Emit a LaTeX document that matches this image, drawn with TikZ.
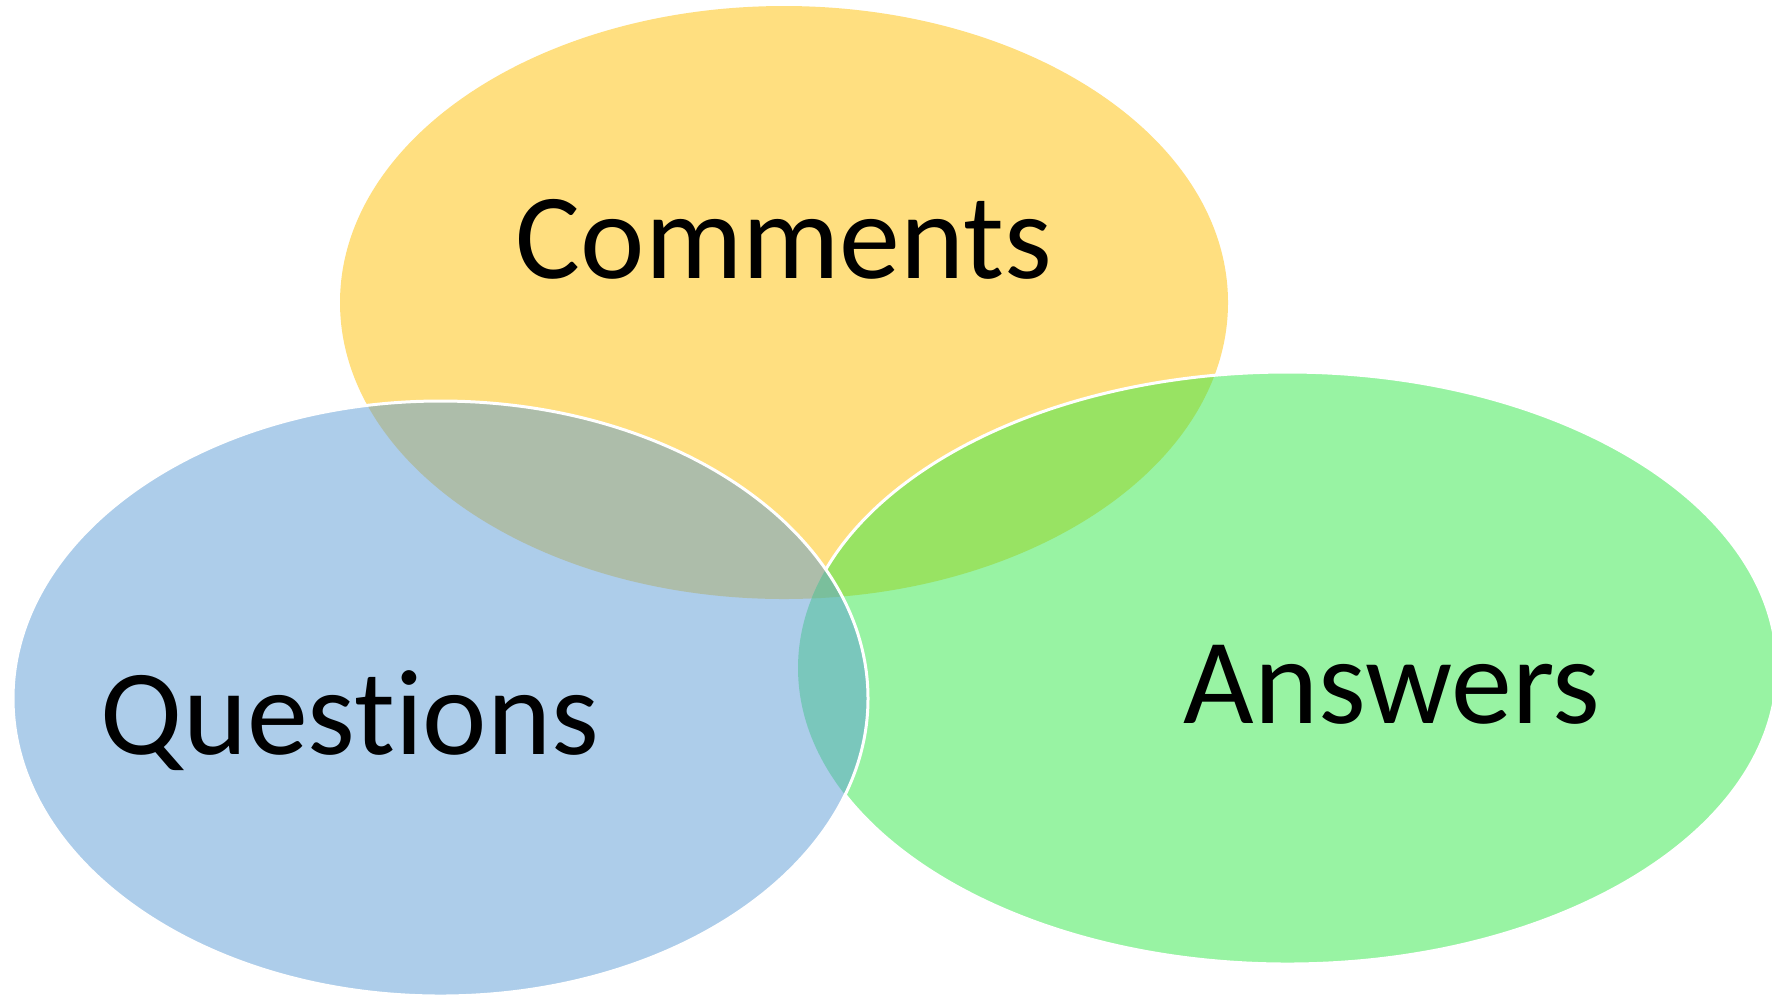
\documentclass[tikz,border=0pt]{standalone}
\usepackage{fontspec}
\setmainfont{Carlito}[Ligatures={NoCommon}]
\definecolor{cY}{RGB}{255,223,128}
\definecolor{cA}{RGB}{152,243,163}
\definecolor{cCA}{RGB}{152,227,99}
\definecolor{cQ}{RGB}{173,205,234}
\definecolor{cQC}{RGB}{173,189,170}
\definecolor{cQA}{RGB}{122,199,188}
\definecolor{cQAC}{RGB}{122,191,156}
\tikzset{
  pathC/.style={insert path={(784,302.5) ellipse [x radius=44.4mm, y radius=29.65mm]}},
  pathA/.style={insert path={(1287.5,668) ellipse [x radius=48.95mm, y radius=29.6mm]}},
  pathQ/.style={insert path={(440.5,698.5) ellipse [x radius=42.75mm, y radius=29.75mm]}},
  rim/.style={draw=white, line width=0.3mm},
  lbl/.style={anchor=base, inner sep=0pt, text=black, font=\fontsize{34.7pt}{40pt}\selectfont}
}
\begin{document}
\begin{tikzpicture}[x=0.1mm,y=-0.1mm]
  \useasboundingbox (0,0) rectangle (1772,997);
  \clip (0,0) rectangle (1772,997);
  \fill[white] (0,0) rectangle (1772,997);
  % Comments
  \fill[cY, pathC];
  % Answers
  \fill[cA, pathA];
  \begin{scope}
    \clip[pathA];
    \fill[cCA, pathC];
  \end{scope}
  \path[rim, pathA];
  % Questions
  \fill[cQ, pathQ];
  \begin{scope}
    \clip[pathQ];
    \fill[cQC, pathC];
    \fill[cQA, pathA];
    \clip[pathA];
    \fill[cQAC, pathC];
  \end{scope}
  \path[rim, pathQ];
  % labels
  \node[lbl] (comments) at (784,278) {Comments};
  \node[lbl] (questions) at (350,754) {Questions};
  \node[lbl] (answers) at (1392,723) {Answers};
\end{tikzpicture}
\end{document}
